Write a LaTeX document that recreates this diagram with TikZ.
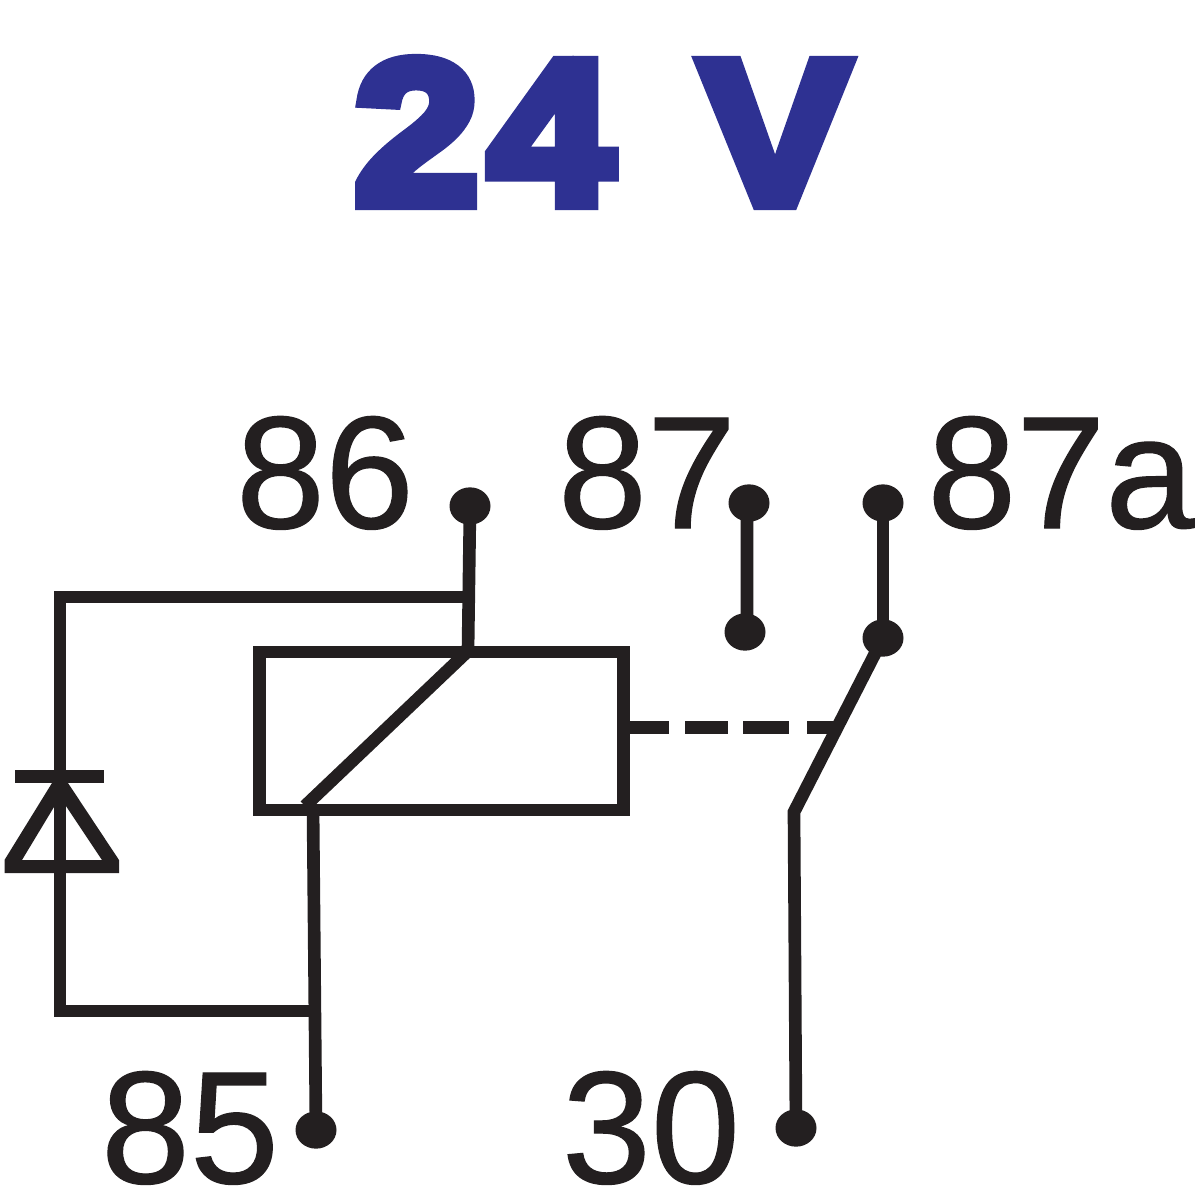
\documentclass[tikz,border=0pt]{standalone}
\usepackage{fontspec}
\usetikzlibrary{shapes.geometric}
\setmainfont{Liberation Sans}
\definecolor{ttl}{RGB}{46,49,146}
\definecolor{ink}{RGB}{35,31,32}
\tikzset{
 wire/.style={draw=ink,line width=7.6pt,line cap=butt,line join=miter},
 term/.style={ellipse,fill=ink,inner sep=0pt,minimum width=24.6pt,minimum height=22.4pt},
 lbl/.style={text=ink,font=\fontsize{96}{96}\selectfont\addfontfeature{FakeBold=0.8},inner sep=0pt,anchor=base},
}
\begin{document}
\begin{tikzpicture}[x=0.6pt,y=-0.6pt]
\useasboundingbox[fill=white] (0,0) rectangle (1200,1200);
\node[text=ttl,font=\bfseries\fontsize{122}{122}\selectfont,inner sep=0pt,anchor=base] (title) at (602,203) {\addfontfeature{FakeBold=7,FakeStretch=1.1}2\kern6pt 4\kern15pt{} V};
\node[lbl] (l86) at (325,528) {86};
\node[lbl] (l87) at (647,528) {87};
\node[lbl,anchor=base west] (l87a) at (927,528) {87a};
\node[lbl] (l85) at (190,1183) {85};
\node[lbl] (l30) at (651,1183) {30};
\node[term] (t86) at (470,506) {};
\node[term] (t87) at (749,503) {};
\node[term] (t87b) at (745,632) {};
\node[term] (t87a) at (883,503) {};
\node[term] (t87c) at (883,638) {};
\node[term] (t85) at (316,1130) {};
\node[term] (t30) at (796,1128) {};
\coordinate (j86) at (467,597);
\coordinate (c1) at (468,651);
\coordinate (c2) at (305,806);
\coordinate (c3) at (313,806);
\coordinate (j85) at (314,1011);
\coordinate (tl) at (60,597);
\coordinate (bl) at (60,1011);
\coordinate (sw) at (794,812);
\draw[wire] (t86.center) -- (c1);
\draw[wire] (j86) -- (tl) -- (bl) -- (j85);
\draw[wire] (259.5,652) rectangle (623.5,810);
\draw[wire] (c1) -- (c2);
\draw[wire] (c3) -- (t85.center);
\draw[wire] ([xshift=-1.2pt]t87.center) -- ([xshift=1.2pt]t87b.center);
\draw[wire] (t87a.center) -- (t87c.center);
\draw[wire] (t87c.center) -- (sw) -- (t30.center);
\draw[wire] (623,727.5) -- (669,727.5);
\draw[wire] (685,727.5) -- (728,727.5);
\draw[wire] (743,727.5) -- (789,727.5);
\draw[wire] (807,727.5) -- (838,727.5);
\draw[wire] (15,776.5) -- (104,776.5);
\fill[ink,even odd rule] (4.5,873) -- (119,873) -- (119,860) -- (68,783) -- (52,783) -- (4.5,860) -- cycle
  (22,860) -- (60,797) -- (102,860) -- cycle;
\end{tikzpicture}
\end{document}
